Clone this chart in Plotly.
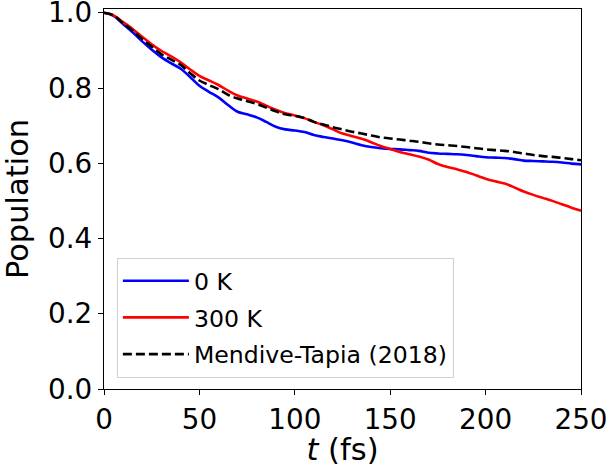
import plotly.graph_objects as go

t = [0, 5, 10, 15, 20, 25, 30, 35, 40, 45, 50, 55, 60, 65, 70, 75, 80, 85, 90, 95,
     100, 105, 110, 115, 120, 125, 130, 135, 140, 145, 150, 155, 160, 165, 170, 175,
     180, 185, 190, 195, 200, 205, 210, 215, 220, 225, 230, 235, 240, 245, 250]

pop_0K = [1.0, 0.992, 0.97, 0.948, 0.924, 0.902, 0.882, 0.866, 0.852, 0.83, 0.806,
          0.79, 0.775, 0.755, 0.737, 0.73, 0.722, 0.71, 0.697, 0.69, 0.687, 0.683,
          0.675, 0.67, 0.666, 0.661, 0.655, 0.648, 0.643, 0.64, 0.638, 0.637, 0.635,
          0.633, 0.628, 0.626, 0.625, 0.624, 0.622, 0.619, 0.616, 0.615, 0.614, 0.611,
          0.607, 0.606, 0.605, 0.604, 0.602, 0.599, 0.597]

pop_300K = [1.0, 0.993, 0.975, 0.957, 0.936, 0.916, 0.899, 0.885, 0.869, 0.85, 0.832,
            0.82, 0.808, 0.793, 0.78, 0.772, 0.764, 0.753, 0.742, 0.733, 0.727, 0.72,
            0.71, 0.701, 0.69, 0.679, 0.672, 0.665, 0.656, 0.646, 0.638, 0.63, 0.624,
            0.618, 0.61, 0.598, 0.59, 0.584, 0.577, 0.568, 0.559, 0.552, 0.546, 0.536,
            0.525, 0.516, 0.508, 0.5, 0.491, 0.482, 0.474]

pop_ref = [1.0, 0.993, 0.972, 0.953, 0.93, 0.91, 0.89, 0.876, 0.862, 0.84, 0.82,
           0.808, 0.797, 0.782, 0.772, 0.765, 0.758, 0.748, 0.738, 0.73, 0.726, 0.72,
           0.71, 0.703, 0.696, 0.69, 0.684, 0.679, 0.674, 0.669, 0.666, 0.663, 0.66,
           0.657, 0.653, 0.65, 0.648, 0.646, 0.643, 0.64, 0.637, 0.635, 0.633, 0.63,
           0.626, 0.622, 0.619, 0.617, 0.614, 0.611, 0.608]

x_ticks = [0, 50, 100, 150, 200, 250]
y_ticks = [0.0, 0.2, 0.4, 0.6, 0.8, 1.0]
y_tick_labels = ["0.0", "0.2", "0.4", "0.6", "0.8", "1.0"]

fig = go.Figure()
fig.add_trace(go.Scatter(x=t, y=pop_0K, mode="lines", name="0 K",
                         line=dict(color="#0000ff", width=2.6, shape="spline"),
                         legendgroup="a"))
fig.add_trace(go.Scatter(x=t, y=pop_300K, mode="lines", name="300 K",
                         line=dict(color="#ff0000", width=2.6, shape="spline"),
                         legendgroup="b"))
fig.add_trace(go.Scatter(x=t, y=pop_ref, mode="lines", name="Mendive-Tapia (2018)",
                         line=dict(color="#000000", width=2.6, dash="9px,4px", shape="spline"),
                         legendgroup="c"))

font_family = "DejaVu Sans"
fig.update_layout(
    template="none",
    width=609, height=467,
    margin=dict(l=104, r=28, t=9, b=77.5, pad=0),
    paper_bgcolor="white", plot_bgcolor="white",
    font=dict(family=font_family, color="black", size=28),
    showlegend=True,
    legend=dict(
        x=0.027, y=0.345, xanchor="left", yanchor="top",
        bgcolor="rgba(255,255,255,0.8)", bordercolor="#d0d0d0", borderwidth=1,
        font=dict(size=23.6, family=font_family),
        tracegroupgap=3, itemwidth=66,
    ),
)
fig.update_xaxes(
    range=[0, 250], tickvals=x_ticks, ticks="outside", ticklen=5, tickwidth=1.3,
    tickcolor="black", automargin=False, ticklabeloverflow="allow",
    showline=True, linecolor="black", linewidth=1.3, mirror=True, showgrid=False,
    zeroline=False, tickfont=dict(size=27.8),
    title=dict(text="<i>t</i> (fs)", font=dict(size=30.5), standoff=10),
)
fig.update_yaxes(
    range=[0, 1.01], tickvals=y_ticks, ticktext=y_tick_labels, ticks="outside",
    ticklen=5, tickwidth=1.3, tickcolor="black", automargin=False,
    ticklabeloverflow="allow",
    showline=True, linecolor="black", linewidth=1.3,
    mirror=True, showgrid=False, zeroline=False, tickfont=dict(size=27.8),
    title=dict(text="Population", font=dict(size=30.5), standoff=10),
)

fig.write_html("out.html", config={"displayModeBar": False},
               post_script="document.body.style.margin='0px';")
